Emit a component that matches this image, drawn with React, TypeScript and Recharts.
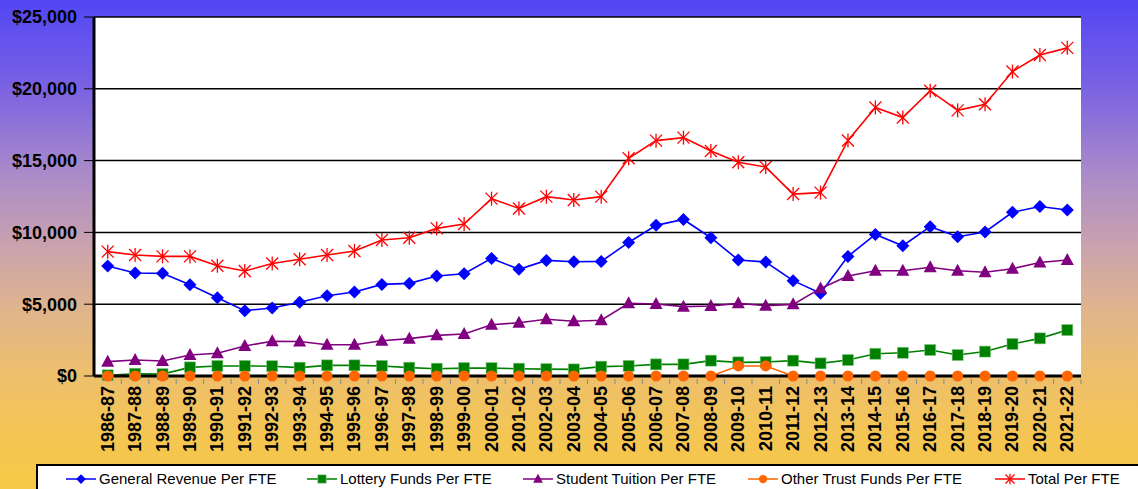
import React from 'react';
import { LineChart, Line, XAxis, YAxis, CartesianGrid } from 'recharts';

const years = [
  '1986-87', '1987-88', '1988-89', '1989-90', '1990-91', '1991-92', '1992-93', '1993-94', '1994-95',
  '1995-96', '1996-97', '1997-98', '1998-99', '1999-00', '2000-01', '2001-02', '2002-03', '2003-04',
  '2004-05', '2005-06', '2006-07', '2007-08', '2008-09', '2009-10', '2010-11', '2011-12', '2012-13',
  '2013-14', '2014-15', '2015-16', '2016-17', '2017-18', '2018-19', '2019-20', '2020-21', '2021-22',
];

const generalRevenue = [
  7660, 7170, 7150, 6360, 5450, 4550, 4740, 5130, 5590, 5850, 6380, 6450, 6960, 7120, 8190, 7430, 8050, 7960,
  7980, 9300, 10490, 10900, 9630, 8080, 7940, 6640, 5760, 8330, 9860, 9070, 10400, 9700, 10030, 11400, 11800, 11560,
];

const lotteryFunds = [
  50, 160, 130, 600, 700, 700, 680, 580, 740, 740, 700, 580, 510, 550, 550, 510, 480, 460,
  650, 700, 810, 810, 1070, 950, 970, 1070, 880, 1110, 1550, 1620, 1810, 1460, 1700, 2230, 2620, 3200,
];

const studentTuition = [
  1000, 1110, 1040, 1460, 1580, 2090, 2420, 2400, 2180, 2180, 2450, 2600, 2830, 2920, 3570, 3710, 3950, 3810,
  3880, 5060, 5010, 4830, 4870, 5060, 4900, 4990, 6100, 6960, 7330, 7330, 7570, 7330, 7220, 7470, 7900, 8080,
];

const otherTrustFunds = [
  0, 0, 0, 0, 0, 0, 0, 0, 0, 0, 0, 0, 0, 0, 0, 0, 0, 0,
  0, 0, 0, 0, 0, 700, 700, 0, 0, 0, 0, 0, 0, 0, 0, 0, 0, 0,
];

const totalPerFte = [
  8660, 8430, 8330, 8330, 7680, 7310, 7830, 8130, 8430, 8700, 9470, 9630, 10280, 10580, 12350, 11670, 12490, 12260,
  12490, 15160, 16390, 16600, 15670, 14880, 14550, 12670, 12770, 16400, 18700, 18000, 19870, 18500, 18920, 21200, 22350, 22850,
];

const yTicks = [0, 5000, 10000, 15000, 20000, 25000];

type MarkerType = 'diamond' | 'square' | 'triangle' | 'circle' | 'star';

const seriesDefs: { key: string; name: string; color: string; marker: MarkerType; values: number[] }[] = [
  { key: 'generalRevenue', name: 'General Revenue Per FTE', color: '#0000FF', marker: 'diamond', values: generalRevenue },
  { key: 'lotteryFunds', name: 'Lottery Funds Per FTE', color: '#008000', marker: 'square', values: lotteryFunds },
  { key: 'studentTuition', name: 'Student Tuition Per FTE', color: '#800080', marker: 'triangle', values: studentTuition },
  { key: 'otherTrustFunds', name: 'Other Trust Funds Per FTE', color: '#FF6600', marker: 'circle', values: otherTrustFunds },
  { key: 'totalPerFte', name: 'Total Per FTE', color: '#FF0000', marker: 'star', values: totalPerFte },
];

// legend item left edges (px in the page)
const legendLefts = [66, 307, 523, 748, 995];

const data = years.map((year, i) => {
  const row: Record<string, string | number> = { year };
  seriesDefs.forEach((s) => {
    row[s.key] = s.values[i];
  });
  return row;
});

const FONT = "Arial, 'Liberation Sans', sans-serif";

function MarkerShape({ type, cx, cy, color, scale = 1 }: { type: MarkerType; cx: number; cy: number; color: string; scale?: number }) {
  const s = scale;
  switch (type) {
    case 'diamond':
      return (
        <polygon
          points={`${cx},${cy - 6.5 * s} ${cx + 6.5 * s},${cy} ${cx},${cy + 6.5 * s} ${cx - 6.5 * s},${cy}`}
          fill={color}
        />
      );
    case 'square':
      return <rect x={cx - 5.5 * s} y={cy - 5.5 * s} width={11 * s} height={11 * s} fill={color} stroke="#7fc77f" strokeWidth={0.6} />;
    case 'triangle':
      return (
        <polygon
          points={`${cx},${cy - 7 * s} ${cx + 6.5 * s},${cy + 5 * s} ${cx - 6.5 * s},${cy + 5 * s}`}
          fill={color}
        />
      );
    case 'circle':
      return <circle cx={cx} cy={cy} r={5.5 * s} fill={color} />;
    case 'star':
    default:
      return (
        <g stroke={color} strokeWidth={1.3}>
          <line x1={cx} y1={cy - 7 * s} x2={cx} y2={cy + 7 * s} />
          <line x1={cx - 6 * s} y1={cy - 6 * s} x2={cx + 6 * s} y2={cy + 6 * s} />
          <line x1={cx + 6 * s} y1={cy - 6 * s} x2={cx - 6 * s} y2={cy + 6 * s} />
        </g>
      );
  }
}

const makeDot = (type: MarkerType, color: string) => (props: any) => {
  const { cx, cy, index } = props;
  if (cx == null || cy == null) return <g key={`d-${index}`} />;
  return (
    <g key={`${type}-${index}`}>
      <MarkerShape type={type} cx={cx} cy={cy} color={color} />
    </g>
  );
};

const XTick = (props: any) => {
  const { x, y, payload } = props;
  return (
    <g transform={`translate(${x},${y})`}>
      <line x1={13.7} y1={1} x2={13.7} y2={6} stroke="#888" strokeWidth={1} />
      <text
        transform="rotate(-90)"
        x={-8}
        y={0}
        dy={6}
        textAnchor="end"
        fontFamily={FONT}
        fontWeight="bold"
        fontSize={18}
        fill="#000"
      >
        {payload.value}
      </text>
    </g>
  );
};

const fmt = (v: number) => `$${v.toLocaleString('en-US')}`;

function LegendBox() {
  return (
    <div
      style={{
        position: 'absolute',
        left: 36,
        top: 464,
        width: 1114,
        height: 40,
        boxSizing: 'border-box',
        border: '2px solid #000',
        background: '#fff',
        fontFamily: FONT,
        fontSize: 15,
        color: '#000',
      }}
    >
      {seriesDefs.map((s, i) => (
        <div
          key={s.key}
          style={{ position: 'absolute', left: legendLefts[i] - 38, top: 2, display: 'flex', alignItems: 'center', height: 22 }}
        >
          <svg width={30} height={16} style={{ marginRight: 3 }}>
            <line x1={0} y1={8} x2={30} y2={8} stroke={s.color} strokeWidth={1.5} />
            <MarkerShape type={s.marker} cx={15} cy={8} color={s.color} scale={0.75} />
          </svg>
          <span style={{ whiteSpace: 'nowrap', lineHeight: '22px' }}>{s.name}</span>
        </div>
      ))}
    </div>
  );
}

export default function App() {
  return (
    <div
      style={{
        position: 'absolute',
        left: 0,
        top: 0,
        width: 1138,
        height: 489,
        overflow: 'hidden',
        background:
          'linear-gradient(to bottom, #5246F5 0%, #7A62E2 18%, #A98ACA 35%, #C9A2AE 50%, #DFB48E 63%, #EDBF6E 76%, #F4C554 88%, #F7C845 100%)',
      }}
    >
      <LineChart
        width={1138}
        height={489}
        data={data}
        margin={{ top: 17, right: 57, bottom: 0, left: 0 }}
      >
        <CartesianGrid horizontal vertical={false} stroke="#000" strokeWidth={1.5} fill="#fff" fillOpacity={1} />
        <XAxis
          dataKey="year"
          interval={0}
          height={113}
          padding={{ left: 13.7, right: 13.7 }}
          tick={<XTick />}
          tickLine={false}
          tickSize={0}
          axisLine={{ stroke: '#000', strokeWidth: 3 }}
        />
        <XAxis
          xAxisId="top"
          dataKey="year"
          orientation="top"
          height={0}
          tick={false}
          tickLine={false}
          axisLine={{ stroke: '#000', strokeWidth: 3 }}
        />
        <YAxis
          domain={[0, 25000]}
          ticks={yTicks}
          width={94}
          interval={0}
          tickFormatter={fmt}
          tickSize={10}
          tickMargin={7}
          tickLine={{ stroke: '#000', strokeWidth: 1 }}
          axisLine={{ stroke: '#000', strokeWidth: 3 }}
          tick={{ fontFamily: FONT, fontWeight: 'bold', fontSize: 18, fill: '#000' }}
        />
        <YAxis
          yAxisId="right"
          orientation="right"
          domain={[0, 25000]}
          width={0}
          tick={false}
          tickLine={false}
          axisLine={{ stroke: '#000', strokeWidth: 3 }}
        />
        {seriesDefs.map((s) => (
          <Line
            key={s.key}
            type="linear"
            dataKey={s.key}
            name={s.name}
            stroke={s.color}
            strokeWidth={1.6}
            dot={makeDot(s.marker, s.color)}
            activeDot={false}
            isAnimationActive={false}
          />
        ))}
      </LineChart>
      <LegendBox />
    </div>
  );
}
